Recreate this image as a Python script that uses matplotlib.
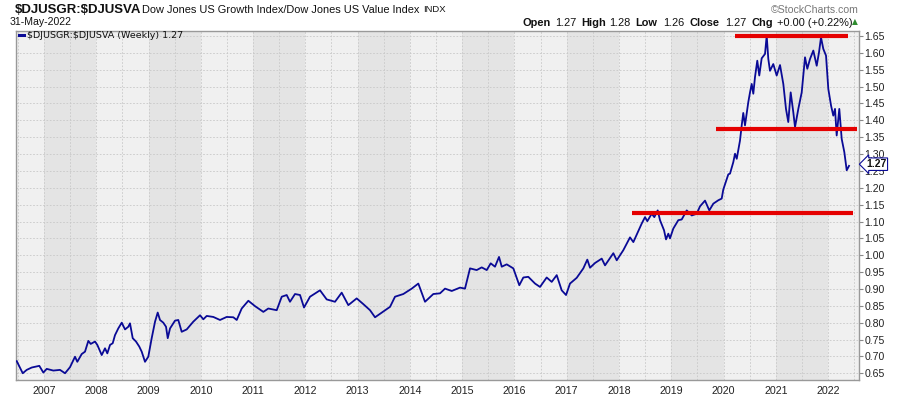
import matplotlib.pyplot as plt
import numpy as np

plt.rcParams['font.family'] = ['Liberation Sans', 'DejaVu Sans']

# weekly ratio $DJUSGR:$DJUSVA (decimal years)
weeks = [2006.478, 2006.593, 2006.669, 2006.765, 2006.910, 2006.987, 2007.052, 2007.178,
         2007.306, 2007.402, 2007.497, 2007.593, 2007.637, 2007.721, 2007.784, 2007.848,
         2007.893, 2007.976, 2008.020, 2008.104, 2008.167, 2008.211, 2008.263, 2008.314,
         2008.358, 2008.421, 2008.487, 2008.550, 2008.613, 2008.645, 2008.697, 2008.760,
         2008.823, 2008.869, 2008.932, 2008.995, 2009.060, 2009.124, 2009.175, 2009.219,
         2009.282, 2009.334, 2009.367, 2009.411, 2009.506, 2009.569, 2009.634, 2009.730,
         2009.856, 2009.985, 2010.048, 2010.113, 2010.239, 2010.367, 2010.495, 2010.622,
         2010.687, 2010.782, 2010.909, 2011.037, 2011.196, 2011.291, 2011.452,
         2011.548, 2011.643, 2011.706, 2011.802, 2011.898, 2011.974, 2012.089, 2012.280,
         2012.408, 2012.567, 2012.695, 2012.822, 2012.982, 2013.109, 2013.237, 2013.333,
         2013.620, 2013.715, 2013.874, 2014.035, 2014.161, 2014.289, 2014.448, 2014.576,
         2014.672, 2014.800, 2014.959, 2015.054, 2015.150, 2015.278, 2015.374, 2015.470,
         2015.546, 2015.628, 2015.705, 2015.757, 2015.852, 2015.979, 2016.093, 2016.170,
         2016.265, 2016.394, 2016.489, 2016.617, 2016.713, 2016.809, 2016.904, 2016.987,
         2017.063, 2017.191, 2017.318, 2017.394, 2017.446, 2017.542, 2017.670, 2017.733,
         2017.892, 2017.957, 2018.083, 2018.211, 2018.275, 2018.435, 2018.498, 2018.542,
         2018.626, 2018.676, 2018.741, 2018.785, 2018.862, 2018.900, 2018.944, 2018.976,
         2019.039, 2019.135, 2019.200, 2019.296, 2019.392, 2019.487, 2019.550, 2019.646,
         2019.728, 2019.805, 2019.900, 2019.965, 2019.996, 2020.092, 2020.124, 2020.157,
         2020.187, 2020.220, 2020.253, 2020.315, 2020.348, 2020.378, 2020.411, 2020.474,
         2020.507, 2020.539, 2020.570, 2020.602, 2020.646, 2020.684, 2020.730, 2020.794,
         2020.826, 2020.857, 2020.889, 2020.952, 2021.017, 2021.081, 2021.144, 2021.195,
         2021.239, 2021.285, 2021.335, 2021.368, 2021.431, 2021.496, 2021.559, 2021.603,
         2021.655, 2021.718, 2021.783, 2021.827, 2021.865, 2021.909, 2021.961, 2022.005,
         2022.057, 2022.100, 2022.133, 2022.165, 2022.215, 2022.261, 2022.311, 2022.357,
         2022.401]
ratio = [0.686, 0.650, 0.660, 0.667, 0.672, 0.652, 0.663, 0.658,
         0.660, 0.650, 0.668, 0.699, 0.684, 0.707, 0.714, 0.746,
         0.737, 0.744, 0.734, 0.704, 0.724, 0.709, 0.734, 0.739,
         0.763, 0.783, 0.800, 0.780, 0.788, 0.798, 0.754, 0.744,
         0.729, 0.714, 0.684, 0.699, 0.754, 0.803, 0.830, 0.808,
         0.800, 0.788, 0.754, 0.783, 0.806, 0.808, 0.773, 0.780,
         0.803, 0.822, 0.810, 0.820, 0.817, 0.808, 0.817, 0.816,
         0.808, 0.842, 0.865, 0.849, 0.832, 0.842, 0.837,
         0.877, 0.882, 0.862, 0.885, 0.882, 0.845, 0.877, 0.896,
         0.869, 0.862, 0.889, 0.852, 0.872, 0.855, 0.837, 0.816,
         0.847, 0.877, 0.885, 0.901, 0.916, 0.862, 0.885, 0.887,
         0.901, 0.894, 0.904, 0.901, 0.961, 0.956, 0.964, 0.956,
         0.976, 0.966, 0.995, 0.966, 0.973, 0.961, 0.911, 0.934,
         0.936, 0.916, 0.906, 0.934, 0.921, 0.941, 0.896, 0.882,
         0.916, 0.933, 0.961, 0.987, 0.963, 0.977, 0.990, 0.970,
         1.006, 0.985, 1.015, 1.053, 1.039, 1.094, 1.113, 1.101,
         1.123, 1.113, 1.133, 1.104, 1.074, 1.047, 1.064, 1.050,
         1.079, 1.104, 1.106, 1.133, 1.118, 1.123, 1.145, 1.162,
         1.133, 1.153, 1.163, 1.168, 1.195, 1.240, 1.242, 1.260,
         1.276, 1.301, 1.286, 1.340, 1.385, 1.422, 1.385, 1.454,
         1.483, 1.508, 1.479, 1.528, 1.577, 1.533, 1.584, 1.597,
         1.651, 1.582, 1.547, 1.567, 1.533, 1.564, 1.508, 1.434,
         1.395, 1.483, 1.424, 1.380, 1.434, 1.483, 1.587, 1.553,
         1.582, 1.607, 1.562, 1.602, 1.646, 1.612, 1.592, 1.493,
         1.444, 1.414, 1.434, 1.355, 1.434, 1.345, 1.306, 1.252,
         1.265]

years = list(range(2007, 2023))
price_ticks = [0.65, 0.70, 0.75, 0.80, 0.85, 0.90, 0.95, 1.00, 1.05, 1.10, 1.15,
               1.20, 1.25, 1.30, 1.35, 1.40, 1.45, 1.50, 1.55, 1.60, 1.65]

# drawn horizontal levels (level, start, end)
level_vals = [1.65, 1.375, 1.125]
level_start = [2020.22, 2019.856, 2018.243]
level_end = [2022.376, 2022.548, 2022.47]

last_close = 1.27

fig = plt.figure(figsize=(9, 3.96), dpi=100)
ax = fig.add_axes([16 / 900, 16 / 396, 843 / 900, 349 / 396])
ax.set_facecolor('#f0f0f0')

# alternating year bands
for y in years:
    if y % 2 == 1:
        ax.axvspan(y, y + 1, color='#e4e4e4', zorder=0, lw=0)

ax.plot(weeks, ratio, color='#0a0a96', lw=1.3, zorder=3)

for lv, s, e in zip(level_vals, level_start, level_end):
    ax.plot([s, e], [lv, lv], color='#e50000', lw=3.0, solid_capstyle='butt', zorder=4)

ax.set_xlim(2006.464, 2022.592)
ax.set_ylim(0.630, 1.665)

ax.set_xticks(years)
ax.set_xticklabels([str(y) for y in years])
ax.set_xticks([y + 0.5 for y in range(2006, 2023)], minor=True)
ax.tick_params(axis='x', which='both', length=0, labelsize=7.7, pad=4, colors='#222222')

ax.yaxis.tick_right()
ax.set_yticks(price_ticks)
ax.set_yticklabels(['%.2f' % v for v in price_ticks])
ax.tick_params(axis='y', length=3, width=0.8, color='#888888', labelsize=7.6, pad=1,
               labelcolor='#222222')

ax.grid(True, which='both', axis='x', color='#c8c8c8', ls=(0, (2, 2)), lw=0.6)
ax.grid(True, which='major', axis='y', color='#c8c8c8', ls=(0, (2, 2)), lw=0.6)
ax.set_axisbelow(True)
for sp in ax.spines.values():
    sp.set_color('#999999')
    sp.set_linewidth(1.0)

# last value tag
ax.annotate('%.2f' % last_close, xy=(1.0, last_close), xycoords=('axes fraction', 'data'),
            xytext=(5, 0), textcoords='offset points', ha='left', va='center',
            fontsize=7.5, fontweight='bold', color='#111111', zorder=10,
            bbox=dict(boxstyle='larrow,pad=0.12', fc='white', ec='#0a0a96', lw=0.8),
            annotation_clip=False)

# legend line inside the plot
ax.plot([0.0035, 0.010], [0.988, 0.988], transform=ax.transAxes, color='#0a0a96', lw=2.2,
        clip_on=False, zorder=5)
ax.text(0.0135, 0.988, r'\$DJUSGR:\$DJUSVA (Weekly) 1.27', transform=ax.transAxes,
        fontsize=6.8, family=['DejaVu Sans'], va='center', ha='left', color='#111111')

# header
fig.text(15 / 900, 1 - 10 / 396, r'\$DJUSGR:\$DJUSVA', fontsize=9.5, fontweight='bold',
         va='center', ha='left', color='#111111')
fig.text(142 / 900, 1 - 10 / 396, 'Dow Jones US Growth Index/Dow Jones US Value Index',
         fontsize=7.9, va='center', ha='left', color='#111111')
fig.text(423 / 900, 1 - 10 / 396, 'INDX', fontsize=6.8, va='center', ha='left', color='#111111')
fig.text(10 / 900, 1 - 22 / 396, '31-May-2022', fontsize=7.6, va='center', ha='left',
         color='#111111')
fig.text(859 / 900, 1 - 10 / 396, '\u00a9StockCharts.com', fontsize=7.6, va='center',
         ha='right', color='#777777')

hdr = [('Open', 522.7, True), ('1.27', 555, False), ('High', 581.7, True),
       ('1.28', 609, False), ('Low', 635, True), ('1.26', 663, False),
       ('Close', 689, True), ('1.27', 725, False), ('Chg', 751.7, True),
       ('+0.00 (+0.22%)', 776.7, False)]
for txt, px, bold in hdr:
    fig.text(px / 900, 1 - 22.5 / 396, txt, fontsize=7.9,
             fontweight='bold' if bold else 'normal', va='center', ha='left', color='#111111')
fig.text(852 / 900, 1 - 22 / 396, '\u25b2', fontsize=5.5, va='center', ha='left',
         color='#2e8b2e', family=['DejaVu Sans'])

fig.savefig('out.png', dpi=100, facecolor='white')
